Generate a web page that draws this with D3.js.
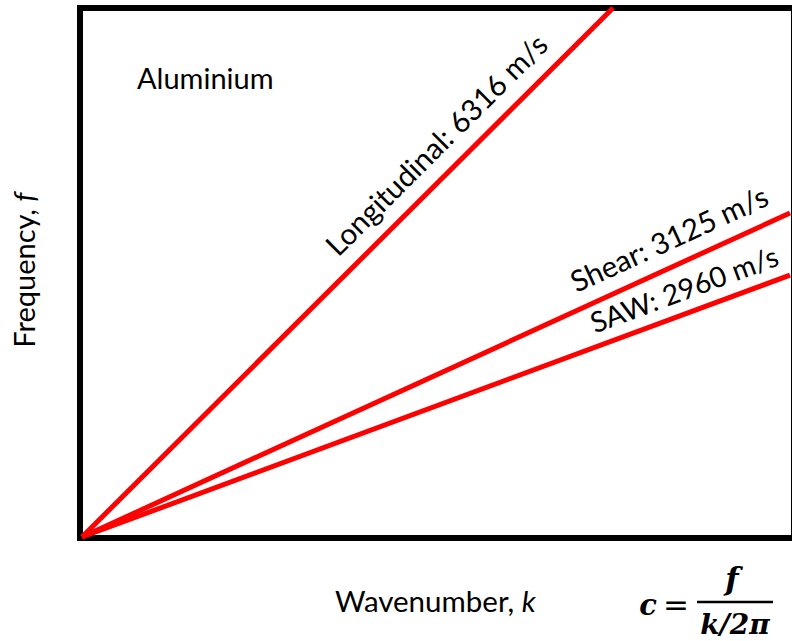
<!DOCTYPE html>
<html>
<head>
<meta charset="utf-8">
<script src="https://cdn.jsdelivr.net/npm/d3@7"></script>
<style>
  html, body { margin: 0; padding: 0; background: #fff; }
  svg { display: block; }
  text { font-family: Lato, "Open Sans", sans-serif; fill: #000; }
  text.math { font-family: "DejaVu Serif", serif; font-weight: bold; font-style: italic; }
  text.math-op { font-family: "DejaVu Sans", sans-serif; font-weight: normal; font-style: normal; }
</style>
</head>
<body>
<svg id="chart" width="792" height="641"></svg>
<script>
// Dispersion lines: each runs from the origin to its end point (k, f) in relative units.
const waveNames = ["Longitudinal", "Shear", "SAW"];
const waveSpeeds = [6316, 3125, 2960];          // m/s
const endK = [0.75, 1.0, 1.0];
const endF = [1.0, 0.6125, 0.495];
const materialName = "Aluminium";

const svg = d3.select("#chart");
const margin = { left: 82, top: 8, right: 2, bottom: 104 };
const W = 792, H = 641;

const x = d3.scaleLinear().domain([0, 1]).range([margin.left, W - margin.right]);
const y = d3.scaleLinear().domain([0, 1]).range([H - margin.bottom, margin.top]);

// frame
svg.append("rect")
  .attr("x", x(0) - 2).attr("y", y(1))
  .attr("width", W + 4 - x(0)).attr("height", y(0) - y(1) + 1)
  .attr("fill", "none").attr("stroke", "#000").attr("stroke-width", 6);

const lines = waveNames.map((n, i) => ({
  name: n, speed: waveSpeeds[i],
  pts: [[0, 0], [endK[i], endF[i]]]
}));

const lineGen = d3.line().x(d => x(d[0])).y(d => y(d[1]));

svg.append("g").selectAll("path").data(lines).join("path")
  .attr("d", d => lineGen(d.pts))
  .attr("fill", "none").attr("stroke", "#ff0000")
  .attr("stroke-width", 5).attr("stroke-linecap", "butt");

// labels sit above each line, starting part-way along it
const labelPos = [0.505, 0.708, 0.731];  // fraction along the line (start of text)
const labelOff = [17, 16, 13];           // px above the line
const labelSize = [29.5, 29.5, 28.5];

svg.append("g").selectAll("text").data(lines).join("text")
  .attr("transform", (d, i) => {
    const x0 = x(0), y0 = y(0);
    const x1 = x(d.pts[1][0]), y1 = y(d.pts[1][1]);
    const ang = Math.atan2(y1 - y0, x1 - x0);
    const px = x0 + (x1 - x0) * labelPos[i] + Math.sin(ang) * labelOff[i];
    const py = y0 + (y1 - y0) * labelPos[i] - Math.cos(ang) * labelOff[i];
    return `translate(${px},${py}) rotate(${ang * 180 / Math.PI})`;
  })
  .attr("font-size", (d, i) => labelSize[i])
  .text(d => `${d.name}: ${d.speed} m/s`);

svg.append("text").attr("x", 137).attr("y", 89)
  .attr("font-size", 29).text(materialName);

// axis titles
const xt = svg.append("text").attr("x", 335).attr("y", 612)
  .attr("font-size", 29.5);
xt.append("tspan").text("Wavenumber, ");
xt.append("tspan").attr("font-style", "italic").text("k");

const yt = svg.append("text")
  .attr("transform", "translate(35,270) rotate(-90)")
  .attr("text-anchor", "middle").attr("font-size", 29);
yt.append("tspan").text("Frequency, ");
yt.append("tspan").attr("font-style", "italic").text("f");

// phase-velocity relation  c = f / (k/2π)
const eq = svg.append("g");
eq.append("text").attr("class", "math").attr("x", 648).attr("y", 615)
  .attr("text-anchor", "middle").attr("font-size", 29).text("c");
eq.append("text").attr("class", "math-op").attr("x", 676).attr("y", 615)
  .attr("text-anchor", "middle").attr("font-size", 31).text("=");
eq.append("line").attr("x1", 697).attr("x2", 773).attr("y1", 602).attr("y2", 602)
  .attr("stroke", "#000").attr("stroke-width", 2.5);
eq.append("text").attr("class", "math").attr("x", 732).attr("y", 590)
  .attr("text-anchor", "middle").attr("font-size", 31).text("f");
eq.append("text").attr("class", "math").attr("x", 735).attr("y", 634)
  .attr("text-anchor", "middle").attr("font-size", 28).text("k/2π");
</script>
</body>
</html>
